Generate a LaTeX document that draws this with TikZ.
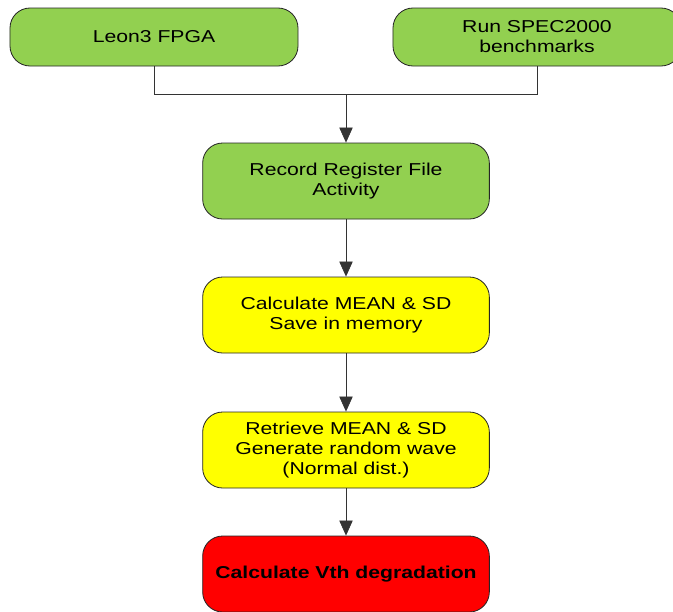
\documentclass[tikz,border=0pt]{standalone}
\usepackage{fontspec}
\setmainfont[FakeStretch=1.23]{Liberation Sans}
\usetikzlibrary{arrows.meta}
\definecolor{gruen}{HTML}{92D050}
\definecolor{gelb}{HTML}{FFFF00}
\definecolor{rot}{HTML}{FF0000}
\tikzset{block/.style={draw=black!85, line width=0.7pt, rounded corners=0.6cm, minimum width=8.6cm, minimum height=2.28cm, align=center, inner sep=0pt, font=\fontsize{14.7}{17}\selectfont},
	topblock/.style={block, fill=gruen, minimum width=8.64cm, minimum height=1.74cm},
	pfeil/.style={-{Triangle[length=0.45cm,width=0.4cm]}, draw=black!80, line width=0.6pt}}
\begin{document}
\begin{tikzpicture}[x=0.03cm, y=-0.03cm]
	\useasboundingbox (0,0) rectangle (673,611);
	%Boxen
	\draw (154,37) node[topblock] (leon) {Leon3 FPGA};
	\draw (537,37) node[topblock] (spec) {Run SPEC2000\\benchmarks};
	\draw (346,181) node[block, fill=gruen] (record) {Record Register File\\Activity};
	\draw (346,315) node[block, fill=gelb] (calc) {Calculate MEAN \& SD\\Save in memory};
	\draw (346,450) node[block, fill=gelb] (retrieve) {Retrieve MEAN \& SD\\Generate random wave\\(Normal dist.)};
	\draw (346,574) node[block, fill=rot, font=\fontsize{14.7}{17}\selectfont\bfseries] (vth) {Calculate Vth degradation};
	%Verbindungen
	\coordinate (mitte) at (346,94.5);
	\draw[draw=black!80, line width=0.6pt] (leon.south) |- (mitte) -| (spec.south);
	\draw[pfeil] (mitte) -- (record.north);
	\draw[pfeil] (record) -- (calc);
	\draw[pfeil] (calc) -- (retrieve);
	\draw[pfeil] (retrieve) -- (vth);
\end{tikzpicture}
\end{document}
